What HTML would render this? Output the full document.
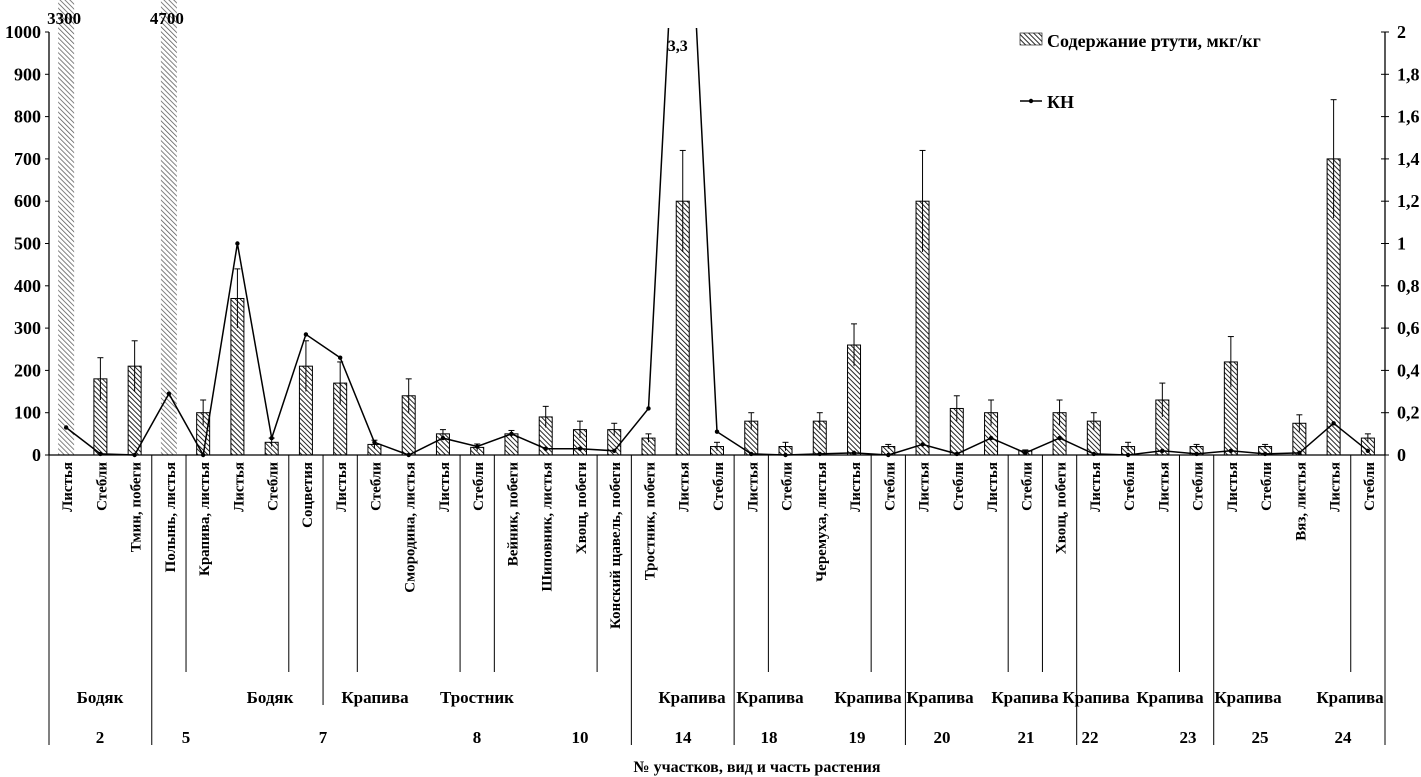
<!DOCTYPE html>
<html><head><meta charset="utf-8"><style>
html,body{margin:0;padding:0;background:#fff;}
svg{display:block;font-family:"Liberation Serif","DejaVu Serif",serif;font-weight:bold;}
</style></head><body>
<svg id="chart" width="1421" height="777" viewBox="0 0 1421 777" xmlns="http://www.w3.org/2000/svg">
<defs>
<pattern id="hatch" patternUnits="userSpaceOnUse" width="3.5" height="3.5" patternTransform="rotate(-45)">
<rect width="3.5" height="3.5" fill="#fff"/><line x1="0" y1="0" x2="0" y2="3.5" stroke="#000" stroke-width="1.7"/></pattern>
<pattern id="hatch2" patternUnits="userSpaceOnUse" width="3.5" height="3.5" patternTransform="rotate(-45)">
<rect width="3.5" height="3.5" fill="#fff"/><line x1="0" y1="0" x2="0" y2="3.5" stroke="#555" stroke-width="1.5"/></pattern>
<clipPath id="plotclip"><rect x="0" y="28" width="1421" height="440"/></clipPath>
</defs>
<g id="g"></g>
</svg>
<script>
const categories=["Листья","Стебли","Тмин, побеги","Полынь, листья","Крапива, листья","Листья","Стебли","Соцветия","Листья","Стебли","Смородина, листья","Листья","Стебли","Вейник, побеги","Шиповник, листья","Хвощ, побеги","Конский щавель, побеги","Тростник, побеги","Листья","Стебли","Листья","Стебли","Черемуха, листья","Листья","Стебли","Листья","Стебли","Листья","Стебли","Хвощ, побеги","Листья","Стебли","Листья","Стебли","Листья","Стебли","Вяз, листья","Листья","Стебли"];
const mercury=[3300,180,210,4700,100,370,30,210,170,25,140,50,18,50,90,60,60,40,600,20,80,20,80,260,20,600,110,100,10,100,80,20,130,20,220,20,75,700,40];
const errors=[0,50,60,0,30,70,10,60,50,10,40,10,8,8,25,20,15,10,120,10,20,10,20,50,5,120,30,30,2,30,20,10,40,5,60,5,20,140,10];
const kn=[0.13,0.005,0,0.29,0,1.0,0.08,0.57,0.46,0.06,0,0.08,0.04,0.1,0.03,0.03,0.02,0.22,3.3,0.11,0.005,0,0.005,0.01,0,0.05,0.005,0.08,0.01,0.08,0.005,0,0.02,0.005,0.02,0.005,0.01,0.15,0.02];
const leftTicks=[0,100,200,300,400,500,600,700,800,900,1000];
const rightTicks=["0","0,2","0,4","0,6","0,8","1","1,2","1,4","1,6","1,8","2"];
const species=[["Бодяк",100],["Бодяк",270],["Крапива",375],["Тростник",477],["Крапива",692],["Крапива",770],["Крапива",868],["Крапива",940],["Крапива",1025],["Крапива",1096],["Крапива",1170],["Крапива",1248],["Крапива",1350]];
const sites=[["2",100],["5",186],["7",323],["8",477],["10",580],["14",683],["18",769],["19",857],["20",942],["21",1026],["22",1090],["23",1188],["25",1260],["24",1343]];
const longSep=[3,17,20,25,30,34];
const midSep=[8];
const shortSep=[4,7,9,12,13,16,21,24,28,29,33,38];

const NS="http://www.w3.org/2000/svg";
const g=document.getElementById('g');
const L=49,R=1385,Y0=455,Y1=32;
const n=categories.length,w=(R-L)/n;
const xc=i=>L+w*(i+0.5);
const xb=i=>L+w*i;
const yl=v=>Y0-(Y0-Y1)*v/1000;
const yr=v=>Y0-(Y0-Y1)*v/2;
function el(t,a,p){const e=document.createElementNS(NS,t);for(const k in a)e.setAttribute(k,a[k]);(p||g).appendChild(e);return e;}
function tx(s,x,y,size,anchor,rot){const e=el('text',{x:x,y:y,'font-size':size,'text-anchor':anchor||'middle'});if(rot)e.setAttribute('transform',rot);e.textContent=s;return e;}

let a=el('line',{x1:L,y1:Y1,x2:L,y2:Y0,stroke:'#000','stroke-width':1.3});

a=el('line',{x1:R,y1:Y1,x2:R,y2:Y0,stroke:'#000','stroke-width':1.3});

leftTicks.forEach(v=>{el('line',{x1:L-4,y1:yl(v),x2:L,y2:yl(v),stroke:'#000'});
 const t=tx(String(v),41,yl(v)+6,18,'end');
 });
rightTicks.forEach((s,i)=>{const y=Y0-(Y0-Y1)*i/10;el('line',{x1:R-4,y1:y,x2:R+4,y2:y,stroke:'#000'});
 const t=tx(s,1397,y+6,18,'start');
 });

mercury.forEach((v,i)=>{
 const clipped=v>1000;
 const top=clipped?0:yl(v);
 const r=el('rect',{x:xc(i)-(clipped?8:6.5),y:top,width:clipped?16:13,height:Y0-top,fill:clipped?'url(#hatch2)':'url(#hatch)',stroke:clipped?'none':'#000','stroke-width':1});
 
 if(clipped){const t=tx(String(v),xc(i)-2,24,17,'middle');
  }
 else if(errors[i]>0){const e=errors[i];
  const eb=el('line',{x1:xc(i),y1:yl(Math.max(0,v-e)),x2:xc(i),y2:yl(v+e),stroke:'#000','stroke-width':1});
  
  el('line',{x1:xc(i)-3,y1:yl(v+e),x2:xc(i)+3,y2:yl(v+e),stroke:'#000'});}
});
a=el('line',{x1:L,y1:Y0,x2:R,y2:Y0,stroke:'#000','stroke-width':1.3});


const lg=el('g',{'clip-path':'url(#plotclip)'});
let d='';kn.forEach((v,i)=>{d+=(i?'L':'M')+xc(i).toFixed(1)+','+yr(v).toFixed(1);});
const ln=el('path',{d:d,fill:'none',stroke:'#000','stroke-width':1.5},lg);

kn.forEach((v,i)=>{if(v<=2){const c=el('circle',{cx:xc(i),cy:yr(v),r:2.2,fill:'#000'},lg);
 }});
kn.forEach((v,i)=>{if(v>2){const t=tx(String(v).replace('.',','),xc(i)-5,51,16,'middle');
 }});

categories.forEach((s,i)=>{const x=xc(i)+6,y=462;
 const t=tx(s,x,y,15,'end','rotate(-90 '+x+' '+y+')');
 });
el('line',{x1:L,y1:Y0,x2:L,y2:745,stroke:'#000'});
el('line',{x1:R,y1:Y0,x2:R,y2:745,stroke:'#000'});
longSep.forEach(k=>{const s=el('line',{x1:xb(k),y1:Y0,x2:xb(k),y2:745,stroke:'#000'});
 });
midSep.forEach(k=>el('line',{x1:xb(k),y1:Y0,x2:xb(k),y2:705,stroke:'#000'}));
shortSep.forEach(k=>{const s=el('line',{x1:xb(k),y1:Y0,x2:xb(k),y2:672,stroke:'#000'});
 });
species.forEach(([s,x])=>{const t=tx(s,x,703,17,'middle');
 });
sites.forEach(([s,x])=>{const t=tx(s,x,743,17,'middle');
 });
let t=tx('№ участков, вид и часть растения',757,772,16,'middle');


let r=el('rect',{x:1020,y:33,width:22,height:12,fill:'url(#hatch)',stroke:'#000','stroke-width':0.6});

t=tx('Содержание ртути, мкг/кг',1047,47,18,'start');

let l=el('line',{x1:1020,y1:101,x2:1042,y2:101,stroke:'#000','stroke-width':1.5});

el('circle',{cx:1031,cy:101,r:2.2,fill:'#000'});
t=tx('КН',1047,108,18,'start');

</script>
</body></html>
